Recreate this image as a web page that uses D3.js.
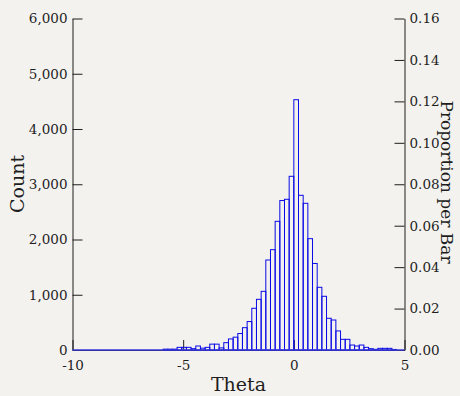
<!DOCTYPE html>
<html>
<head>
<meta charset="utf-8">
<script src="https://cdn.jsdelivr.net/npm/d3@7"></script>
<style>
  html, body { margin: 0; padding: 0; background: #f4f2ef; }
  svg { display: block; }
  text { font-family: "DejaVu Serif", serif; fill: #1e1e1e; }
</style>
</head>
<body>
<svg id="chart" width="460" height="396"></svg>
<script>
// Histogram of Theta: bin counts, bin index 0 starts at Theta = 0
const binWidth = 0.211;
const firstBinIndex = -28;
const counts = [
  15, 15, 15, 48, 48, 48, 24, 72, 33, 48,          // -28 .. -19
  106, 106, 38, 133, 200, 232, 298, 404, 515, 755, // -18 .. -9
  917, 1062, 1629, 1816, 2329, 2705, 2728, 3144,   // -8 .. -1
  4530, 2800, 2655, 2015, 1566, 1135, 972, 574,    // 0 .. 7
  543, 345, 193, 193, 90, 72, 90, 48,              // 8 .. 15
  24, 12, 30, 30, 30, 10                           // 16 .. 21
];

const xDomain = [-10, 5];
const xTicks = [-10, -5, 0, 5];
const countTicks = [0, 1000, 2000, 3000, 4000, 5000, 6000];
const propTicks = [0, 0.02, 0.04, 0.06, 0.08, 0.10, 0.12, 0.14, 0.16];

const xLabel = "Theta";
const yLabel = "Count";
const y2Label = "Proportion per Bar";

const svg = d3.select("#chart");
const barColor = "#0a0ae6";

const x = d3.scaleLinear().domain(xDomain).range([72.5, 404.5]);
const y = d3.scaleLinear().domain([0, d3.max(countTicks)]).range([350, 18.5]);
const y2 = d3.scaleLinear().domain([0, d3.max(propTicks)]).range([350, 18.5]);

const bins = counts.map((c, i) => {
  const k = firstBinIndex + i;
  return { x0: k * binWidth, x1: (k + 1) * binWidth, count: c };
});

// axes
const gLeft = svg.append("g").attr("transform", "translate(72.5,0)")
  .call(d3.axisLeft(y).tickValues(countTicks).tickFormat(d3.format(","))
    .tickSizeInner(-10).tickSizeOuter(0).tickPadding(5));
const gRight = svg.append("g").attr("transform", "translate(404.5,0)")
  .call(d3.axisRight(y2).tickValues(propTicks).tickFormat(d3.format(".2f"))
    .tickSizeInner(-10).tickSizeOuter(0).tickPadding(5));
const gBottom = svg.append("g").attr("transform", "translate(0,350)")
  .call(d3.axisBottom(x).tickValues(xTicks).tickFormat(d3.format("d"))
    .tickSizeInner(-10).tickSizeOuter(0).tickPadding(10));

[gLeft, gRight, gBottom].forEach(g => {
  g.selectAll("text").attr("font-family", "DejaVu Serif").attr("font-size", 13.5).attr("fill", "#1e1e1e");
  g.selectAll("path, line").attr("stroke", "#1e1e1e");
});
gBottom.selectAll("text").text(d => d < 0 ? "-" + Math.abs(d) : d);

// histogram bars
svg.append("g").selectAll("rect").data(bins).join("rect")
  .attr("x", d => x(d.x0))
  .attr("width", d => x(d.x1) - x(d.x0))
  .attr("y", d => y(d.count))
  .attr("height", d => y(0) - y(d.count))
  .attr("fill", "none")
  .attr("stroke", barColor)
  .attr("stroke-width", 1);

// histogram baseline across the Theta range
svg.append("line")
  .attr("x1", x(xDomain[0])).attr("x2", x(xDomain[1]))
  .attr("y1", y(0)).attr("y2", y(0))
  .attr("stroke", "#3a3ad6").attr("stroke-width", 1.5);

// axis titles
svg.append("text")
  .attr("x", (x.range()[0] + x.range()[1]) / 2).attr("y", 391)
  .attr("text-anchor", "middle").attr("font-size", 19)
  .text(xLabel);
svg.append("text")
  .attr("transform", "translate(24,184) rotate(-90)")
  .attr("text-anchor", "middle").attr("font-size", 19)
  .text(yLabel);
svg.append("text")
  .attr("transform", "translate(441,182) rotate(90)")
  .attr("text-anchor", "middle").attr("font-size", 17)
  .text(y2Label);
</script>
</body>
</html>
